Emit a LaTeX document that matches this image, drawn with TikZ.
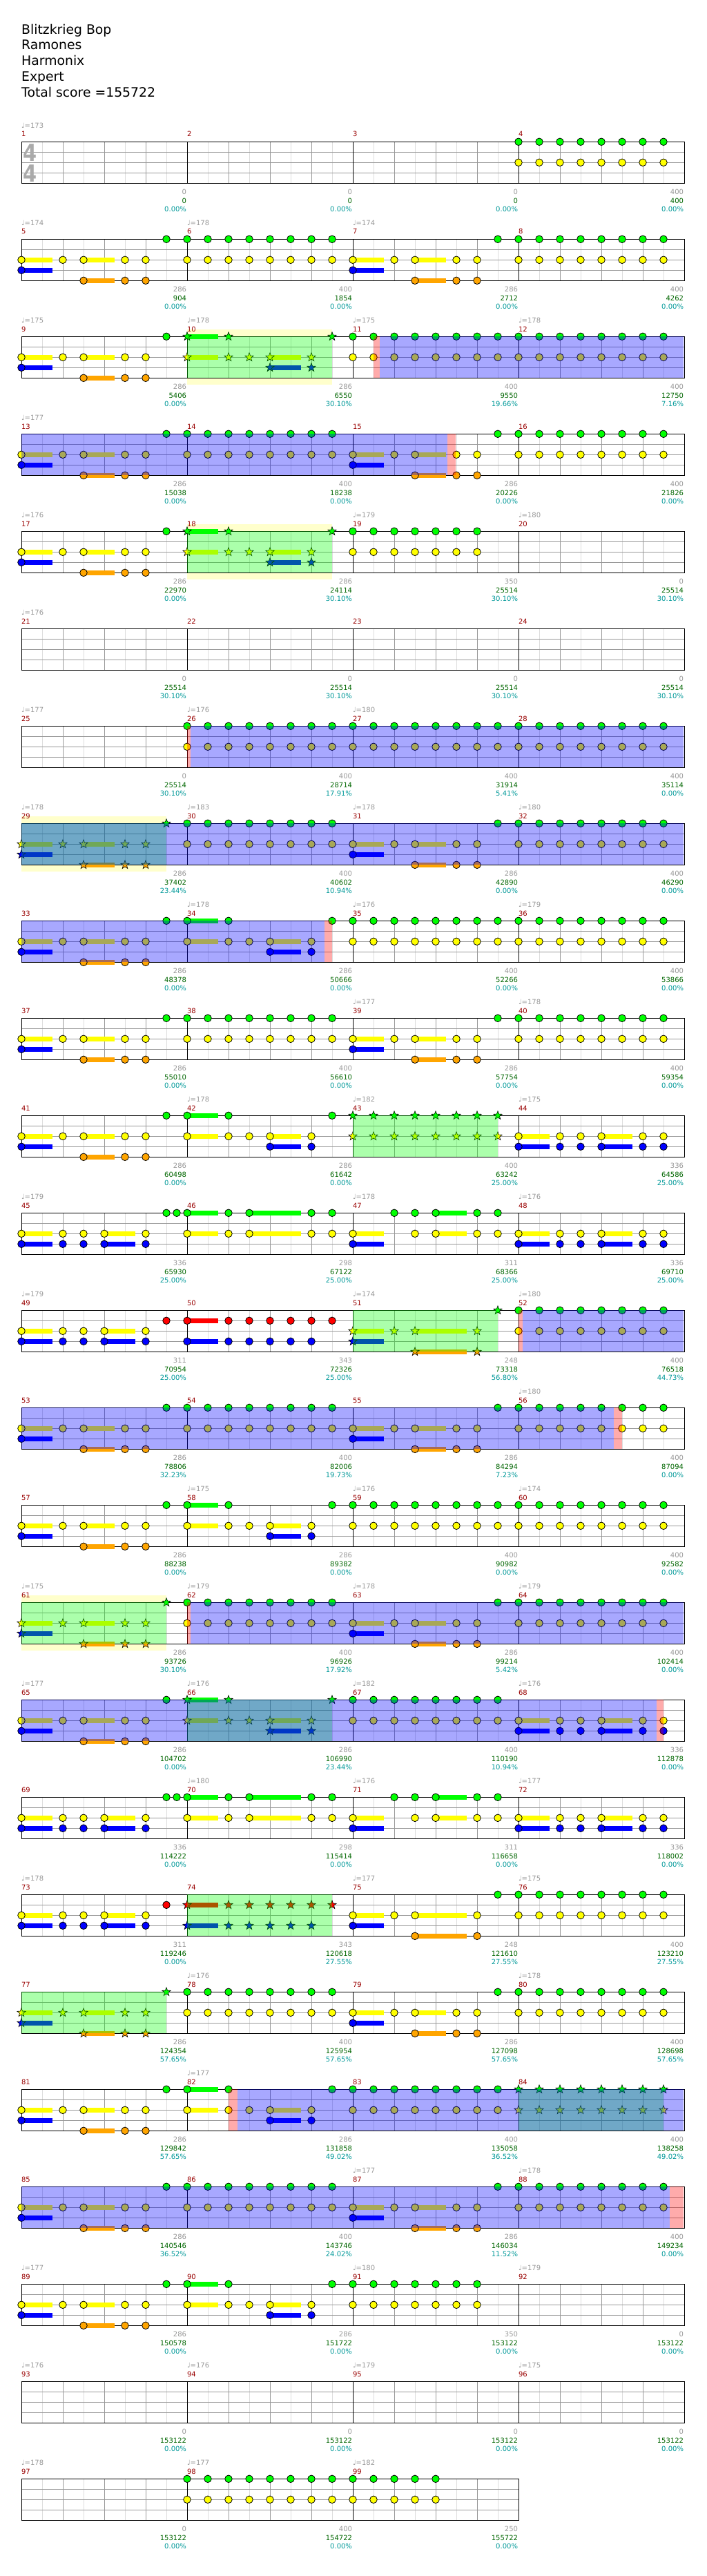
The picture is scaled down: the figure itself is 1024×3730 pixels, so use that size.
\documentclass[tikz,border=0pt]{standalone}
\usepackage{fontspec}
\setmainfont{DejaVu Sans}
\usetikzlibrary{calc}
\definecolor{cG}{HTML}{00FF00}
\definecolor{cR}{HTML}{FF0000}
\definecolor{cY}{HTML}{FFFF00}
\definecolor{cB}{HTML}{0000FF}
\definecolor{cO}{HTML}{FFA500}
\colorlet{lane0}{cG}\colorlet{lane1}{cR}\colorlet{lane2}{cY}\colorlet{lane3}{cB}\colorlet{lane4}{cO}
\definecolor{gridc}{HTML}{999999}
\definecolor{lightgridc}{HTML}{DDDDDD}
\definecolor{mnumc}{HTML}{990000}
\definecolor{scorec}{HTML}{006600}
\definecolor{pctc}{HTML}{009999}
\definecolor{tempoc}{HTML}{999999}
\definecolor{bandc}{HTML}{FFFFCC}
\definecolor{tsc}{HTML}{AAAAAA}
\newcount\nid
\newcommand\nextid{\global\advance\nid by 1\relax}
\tikzset{lbl/.style={font=\fontsize{10}{12}\selectfont, inner sep=0pt, outer sep=0pt}}
% notes: #1 measure in row, #2 eighth, #3 lane, #4 sustain (eighths)
\newcommand\noteN[4]{%
  \pgfmathsetmacro\nx{31+240*#1+30*#2}%
  \pgfmathsetmacro\ny{15*#3}%
  \ifdim#4pt>0pt \fill[lane#3] (\nx,{\ny-3.3}) rectangle ({\nx+30*#4},{\ny+3.3});\fi
  \filldraw[fill=lane#3,draw=black,line width=0.8pt] (\nx,\ny) circle (5.3pt);%
}
\newcommand\noteS[4]{%
  \pgfmathsetmacro\nx{31+240*#1+30*#2}%
  \pgfmathsetmacro\ny{15*#3}%
  \ifdim#4pt>0pt \fill[lane#3] (\nx,{\ny-3.3}) rectangle ({\nx+30*#4},{\ny+3.3});\fi
  \filldraw[fill=lane#3,draw=black,line width=0.6pt,line join=miter]
   ([shift={(90:6.5pt)}]\nx,\ny) -- ([shift={(126:2.7pt)}]\nx,\ny) -- ([shift={(162:6.5pt)}]\nx,\ny)
   -- ([shift={(198:2.7pt)}]\nx,\ny) -- ([shift={(234:6.5pt)}]\nx,\ny) -- ([shift={(270:2.7pt)}]\nx,\ny)
   -- ([shift={(306:6.5pt)}]\nx,\ny) -- ([shift={(342:2.7pt)}]\nx,\ny) -- ([shift={(18:6.5pt)}]\nx,\ny)
   -- ([shift={(54:2.7pt)}]\nx,\ny) -- cycle;%
}
\newcommand\GY[4]{\foreach \e in {#3,...,#4}{#1{#2}{\e}{0}{0}#1{#2}{\e}{2}{0}}}
\newcommand\patA[2]{%
 #1{#2}{0}{2}{1.5}#1{#2}{0}{3}{1.5}%
 #1{#2}{2}{2}{0}%
 #1{#2}{3}{2}{1.5}#1{#2}{3}{4}{1.5}%
 #1{#2}{5}{2}{0}#1{#2}{5}{4}{0}%
 #1{#2}{6}{2}{0}#1{#2}{6}{4}{0}%
 #1{#2}{7}{0}{0}}
\newcommand\patB[2]{%
 #1{#2}{0}{0}{1.5}#1{#2}{0}{2}{1.5}%
 #1{#2}{2}{0}{0}#1{#2}{2}{2}{0}%
 #1{#2}{3}{2}{0}%
 #1{#2}{4}{2}{1.5}#1{#2}{4}{3}{1.5}%
 #1{#2}{6}{2}{0}#1{#2}{6}{3}{0}%
 #1{#2}{7}{0}{0}}
\newcommand\patYB[2]{%
 #1{#2}{0}{2}{1.5}#1{#2}{0}{3}{1.5}%
 #1{#2}{2}{2}{0}#1{#2}{2}{3}{0}%
 #1{#2}{3}{2}{0}#1{#2}{3}{3}{0}%
 #1{#2}{4}{2}{1.5}#1{#2}{4}{3}{1.5}%
 #1{#2}{6}{2}{0}#1{#2}{6}{3}{0}}
\newcommand\patC[2]{\patYB{#1}{#2}#1{#2}{7}{2}{0}#1{#2}{7}{3}{0}}
\newcommand\patD[2]{\patYB{#1}{#2}#1{#2}{7}{0}{0}#1{#2}{7.5}{0}{0}}
\newcommand\patH[2]{\patYB{#1}{#2}#1{#2}{7}{1}{0}}
\newcommand\patE[2]{%
 #1{#2}{0}{0}{1.5}#1{#2}{0}{2}{1.5}%
 #1{#2}{2}{0}{0}#1{#2}{2}{2}{0}%
 #1{#2}{3}{0}{2.5}#1{#2}{3}{2}{2.5}%
 #1{#2}{6}{0}{0}#1{#2}{6}{2}{0}%
 #1{#2}{7}{0}{0}#1{#2}{7}{2}{0}}
\newcommand\patF[2]{%
 #1{#2}{0}{2}{1.5}#1{#2}{0}{3}{1.5}%
 #1{#2}{2}{0}{0}%
 #1{#2}{3}{0}{0}#1{#2}{3}{2}{0}%
 #1{#2}{4}{0}{1.5}#1{#2}{4}{2}{1.5}%
 #1{#2}{6}{0}{0}#1{#2}{6}{2}{0}%
 #1{#2}{7}{0}{0}#1{#2}{7}{2}{0}}
\newcommand\patI[2]{%
 #1{#2}{0}{1}{1.5}#1{#2}{0}{3}{1.5}%
 \foreach \e in {2,...,6}{#1{#2}{\e}{1}{0}#1{#2}{\e}{3}{0}}%
 #1{#2}{7}{1}{0}}
\newcommand\patJ[2]{%
 #1{#2}{0}{2}{1.5}#1{#2}{0}{3}{1.5}%
 #1{#2}{2}{2}{0}%
 #1{#2}{3}{2}{2.5}#1{#2}{3}{4}{2.5}%
 #1{#2}{6}{2}{0}#1{#2}{6}{4}{0}%
 #1{#2}{7}{0}{0}}
\newcommand\staff[1]{%
  \fill[white] (31,0) rectangle ({31+240*#1},60);
  \foreach \m in {1,...,#1}{%
    \foreach \e in {1,3,5,7}{\draw[lightgridc,line width=1pt] ({31+240*(\m-1)+30*\e},0) -- ++(0,60);}%
    \foreach \e in {2,4,6}{\draw[gridc,line width=1pt] ({31+240*(\m-1)+30*\e},0) -- ++(0,60);}%
  }%
  \foreach \yy in {15,30,45}{\draw[gridc,line width=1pt] (31,\yy) -- ({31+240*#1},\yy);}%
  \foreach \m in {2,...,#1}{\draw[black,line width=1pt] ({31+240*(\m-1)},0) -- ++(0,60);}%
  \draw[black,line width=1pt] (31,0) rectangle ({31+240*#1},60);%
}
\newcommand\band[2]{\fill[bandc] (#1,-10) rectangle (#2,70);}
\newcommand\spreg[2]{\fill[cG,opacity=0.33] (#1,0) rectangle (#2,60);}
\newcommand\odreg[2]{\fill[cB,opacity=0.34] (#1,0) rectangle (#2,60);}
\newcommand\redreg[2]{\fill[cR,opacity=0.33] (#1,0) rectangle (#2,60);}
\newcommand\mnums[2]{\foreach \jj in {#2}{\pgfmathtruncatemacro\mm{#1+\jj}\nextid
  \node[lbl,text=mnumc,anchor=base west] (m\the\nid) at ({31+240*\jj},-7.3) {\mm};}}
\newcommand\tempo[2]{\nextid\node[lbl,text=tempoc,anchor=base west] (t\the\nid) at ({31+240*#1},-20) {♩=#2};}
\newcommand\lab[4]{\nextid
  \node[lbl,text=tempoc,anchor=base east] (a\the\nid) at ({30+240*(#1+1)},76) {#2};
  \node[lbl,text=scorec,anchor=base east] (b\the\nid) at ({30+240*(#1+1)},89.3) {#3};
  \node[lbl,text=pctc,anchor=base east] (c\the\nid) at ({30+240*(#1+1)},101.3) {#4\%};}
\newcommand\Row[2]{\begin{scope}[shift={(0,{205.3+141*(#1-1)})}]#2\end{scope}}
\begin{document}
\begin{tikzpicture}[x=1pt,y=-1pt]
\useasboundingbox (0,0) rectangle (1024,3730);
\fill[white] (0,0) rectangle (1024,3730);
\begin{scope}[every node/.style={anchor=base west,inner sep=0pt,font=\fontsize{18.8}{22}\selectfont}]
\node (h1) at (31,49.3) {Blitzkrieg Bop};
\node (h2) at (31,72) {Ramones};
\node (h3) at (31,94.7) {Harmonix};
\node (h4) at (31,117.5) {Expert};
\node (h5) at (31,140.3) {Total score =155722};
\end{scope}
\Row{1}{\staff{4}
 \node[anchor=base west,inner sep=0pt,text=tsc,font=\fontsize{34}{34}\selectfont\bfseries,xscale=0.85] (ts1) at (33,28) {4};
 \node[anchor=base west,inner sep=0pt,text=tsc,font=\fontsize{34}{34}\selectfont\bfseries,xscale=0.85] (ts2) at (33,58) {4};
 \GY\noteN{3}{0}{7}
 \mnums{1}{0,1,2,3}\tempo{0}{173}
 \lab{0}{0}{0}{0.00}\lab{1}{0}{0}{0.00}\lab{2}{0}{0}{0.00}\lab{3}{400}{400}{0.00}}
\Row{2}{\staff{4}\patA\noteN{0}\GY\noteN{1}{0}{7}\patA\noteN{2}\GY\noteN{3}{0}{7}
 \mnums{5}{0,1,2,3}\tempo{0}{174}\tempo{1}{178}\tempo{2}{174}
 \lab{0}{286}{904}{0.00}\lab{1}{400}{1854}{0.00}\lab{2}{286}{2712}{0.00}\lab{3}{400}{4262}{0.00}}
\Row{3}{\band{271}{481}\staff{4}\patA\noteN{0}\patB\noteS{1}\GY\noteN{2}{0}{7}\GY\noteN{3}{0}{7}
 \spreg{271}{481}\redreg{541}{550}\odreg{550}{990}
 \mnums{9}{0,1,2,3}\tempo{0}{175}\tempo{1}{178}\tempo{2}{175}\tempo{3}{178}
 \lab{0}{286}{5406}{0.00}\lab{1}{286}{6550}{30.10}\lab{2}{400}{9550}{19.66}\lab{3}{400}{12750}{7.16}}
\Row{4}{\staff{4}\patA\noteN{0}\GY\noteN{1}{0}{7}\patA\noteN{2}\GY\noteN{3}{0}{7}
 \odreg{31}{648}\redreg{648}{660}
 \mnums{13}{0,1,2,3}\tempo{0}{177}
 \lab{0}{286}{15038}{0.00}\lab{1}{400}{18238}{0.00}\lab{2}{286}{20226}{0.00}\lab{3}{400}{21826}{0.00}}
\Row{5}{\band{271}{481}\staff{4}\patA\noteN{0}\patB\noteS{1}\GY\noteN{2}{0}{6}
 \spreg{271}{481}
 \mnums{17}{0,1,2,3}\tempo{0}{176}\tempo{2}{179}\tempo{3}{180}
 \lab{0}{286}{22970}{0.00}\lab{1}{286}{24114}{30.10}\lab{2}{350}{25514}{30.10}\lab{3}{0}{25514}{30.10}}
\Row{6}{\staff{4}
 \mnums{21}{0,1,2,3}\tempo{0}{176}
 \lab{0}{0}{25514}{30.10}\lab{1}{0}{25514}{30.10}\lab{2}{0}{25514}{30.10}\lab{3}{0}{25514}{30.10}}
\Row{7}{\staff{4}\GY\noteN{1}{0}{7}\GY\noteN{2}{0}{7}\GY\noteN{3}{0}{7}
 \redreg{271}{276}\odreg{276}{990}
 \mnums{25}{0,1,2,3}\tempo{0}{177}\tempo{1}{176}\tempo{2}{180}
 \lab{0}{0}{25514}{30.10}\lab{1}{400}{28714}{17.91}\lab{2}{400}{31914}{5.41}\lab{3}{400}{35114}{0.00}}
\Row{8}{\band{31}{241}\staff{4}\patA\noteS{0}\GY\noteN{1}{0}{7}\patA\noteN{2}\GY\noteN{3}{0}{7}
 \spreg{31}{241}\odreg{31}{990}
 \mnums{29}{0,1,2,3}\tempo{0}{178}\tempo{1}{183}\tempo{2}{178}\tempo{3}{180}
 \lab{0}{286}{37402}{23.44}\lab{1}{400}{40602}{10.94}\lab{2}{286}{42890}{0.00}\lab{3}{400}{46290}{0.00}}
\Row{9}{\staff{4}\patA\noteN{0}\patB\noteN{1}\GY\noteN{2}{0}{7}\GY\noteN{3}{0}{7}
 \odreg{31}{470}\redreg{470}{481}
 \mnums{33}{0,1,2,3}\tempo{1}{178}\tempo{2}{176}\tempo{3}{179}
 \lab{0}{286}{48378}{0.00}\lab{1}{286}{50666}{0.00}\lab{2}{400}{52266}{0.00}\lab{3}{400}{53866}{0.00}}
\Row{10}{\staff{4}\patA\noteN{0}\GY\noteN{1}{0}{7}\patA\noteN{2}\GY\noteN{3}{0}{7}
 \mnums{37}{0,1,2,3}\tempo{2}{177}\tempo{3}{178}
 \lab{0}{286}{55010}{0.00}\lab{1}{400}{56610}{0.00}\lab{2}{286}{57754}{0.00}\lab{3}{400}{59354}{0.00}}
\Row{11}{\staff{4}\patA\noteN{0}\patB\noteN{1}\GY\noteS{2}{0}{7}\patC\noteN{3}
 \spreg{511}{721}
 \mnums{41}{0,1,2,3}\tempo{1}{178}\tempo{2}{182}\tempo{3}{175}
 \lab{0}{286}{60498}{0.00}\lab{1}{286}{61642}{0.00}\lab{2}{400}{63242}{25.00}\lab{3}{336}{64586}{25.00}}
\Row{12}{\staff{4}\patD\noteN{0}\patE\noteN{1}\patF\noteN{2}\patC\noteN{3}
 \mnums{45}{0,1,2,3}\tempo{0}{179}\tempo{2}{178}\tempo{3}{176}
 \lab{0}{336}{65930}{25.00}\lab{1}{298}{67122}{25.00}\lab{2}{311}{68366}{25.00}\lab{3}{336}{69710}{25.00}}
\Row{13}{\staff{4}\patH\noteN{0}\patI\noteN{1}\patJ\noteS{2}\GY\noteN{3}{0}{7}
 \spreg{511}{721}\redreg{751}{757}\odreg{757}{990}
 \mnums{49}{0,1,2,3}\tempo{0}{179}\tempo{2}{174}\tempo{3}{180}
 \lab{0}{311}{70954}{25.00}\lab{1}{343}{72326}{25.00}\lab{2}{248}{73318}{56.80}\lab{3}{400}{76518}{44.73}}
\Row{14}{\staff{4}\patA\noteN{0}\GY\noteN{1}{0}{7}\patA\noteN{2}\GY\noteN{3}{0}{7}
 \odreg{31}{889}\redreg{889}{901}
 \mnums{53}{0,1,2,3}\tempo{3}{180}
 \lab{0}{286}{78806}{32.23}\lab{1}{400}{82006}{19.73}\lab{2}{286}{84294}{7.23}\lab{3}{400}{87094}{0.00}}
\Row{15}{\staff{4}\patA\noteN{0}\patB\noteN{1}\GY\noteN{2}{0}{7}\GY\noteN{3}{0}{7}
 \mnums{57}{0,1,2,3}\tempo{1}{175}\tempo{2}{176}\tempo{3}{174}
 \lab{0}{286}{88238}{0.00}\lab{1}{286}{89382}{0.00}\lab{2}{400}{90982}{0.00}\lab{3}{400}{92582}{0.00}}
\Row{16}{\band{31}{241}\staff{4}\patA\noteS{0}\GY\noteN{1}{0}{7}\patA\noteN{2}\GY\noteN{3}{0}{7}
 \spreg{31}{241}\redreg{271}{276}\odreg{276}{990}
 \mnums{61}{0,1,2,3}\tempo{0}{175}\tempo{1}{179}\tempo{2}{178}\tempo{3}{179}
 \lab{0}{286}{93726}{30.10}\lab{1}{400}{96926}{17.92}\lab{2}{286}{99214}{5.42}\lab{3}{400}{102414}{0.00}}
\Row{17}{\staff{4}\patA\noteN{0}\patB\noteS{1}\GY\noteN{2}{0}{7}\patC\noteN{3}
 \spreg{271}{481}\odreg{31}{951}\redreg{951}{961}
 \mnums{65}{0,1,2,3}\tempo{0}{177}\tempo{1}{176}\tempo{2}{182}\tempo{3}{176}
 \lab{0}{286}{104702}{0.00}\lab{1}{286}{106990}{23.44}\lab{2}{400}{110190}{10.94}\lab{3}{336}{112878}{0.00}}
\Row{18}{\staff{4}\patD\noteN{0}\patE\noteN{1}\patF\noteN{2}\patC\noteN{3}
 \mnums{69}{0,1,2,3}\tempo{1}{180}\tempo{2}{176}\tempo{3}{177}
 \lab{0}{336}{114222}{0.00}\lab{1}{298}{115414}{0.00}\lab{2}{311}{116658}{0.00}\lab{3}{336}{118002}{0.00}}
\Row{19}{\staff{4}\patH\noteN{0}\patI\noteS{1}\patJ\noteN{2}\GY\noteN{3}{0}{7}
 \spreg{271}{481}
 \mnums{73}{0,1,2,3}\tempo{0}{178}\tempo{2}{177}\tempo{3}{175}
 \lab{0}{311}{119246}{0.00}\lab{1}{343}{120618}{27.55}\lab{2}{248}{121610}{27.55}\lab{3}{400}{123210}{27.55}}
\Row{20}{\staff{4}\patA\noteS{0}\GY\noteN{1}{0}{7}\patA\noteN{2}\GY\noteN{3}{0}{7}
 \spreg{31}{241}
 \mnums{77}{0,1,2,3}\tempo{1}{176}\tempo{3}{178}
 \lab{0}{286}{124354}{57.65}\lab{1}{400}{125954}{57.65}\lab{2}{286}{127098}{57.65}\lab{3}{400}{128698}{57.65}}
\Row{21}{\staff{4}\patA\noteN{0}\patB\noteN{1}\GY\noteN{2}{0}{7}\GY\noteS{3}{0}{7}
 \spreg{751}{961}\redreg{331}{344}\odreg{344}{990}
 \mnums{81}{0,1,2,3}\tempo{1}{177}
 \lab{0}{286}{129842}{57.65}\lab{1}{286}{131858}{49.02}\lab{2}{400}{135058}{36.52}\lab{3}{400}{138258}{49.02}}
\Row{22}{\staff{4}\patA\noteN{0}\GY\noteN{1}{0}{7}\patA\noteN{2}\GY\noteN{3}{0}{7}
 \odreg{31}{970}\redreg{970}{990}
 \mnums{85}{0,1,2,3}\tempo{2}{177}\tempo{3}{178}
 \lab{0}{286}{140546}{36.52}\lab{1}{400}{143746}{24.02}\lab{2}{286}{146034}{11.52}\lab{3}{400}{149234}{0.00}}
\Row{23}{\staff{4}\patA\noteN{0}\patB\noteN{1}\GY\noteN{2}{0}{6}
 \mnums{89}{0,1,2,3}\tempo{0}{177}\tempo{2}{180}\tempo{3}{179}
 \lab{0}{286}{150578}{0.00}\lab{1}{286}{151722}{0.00}\lab{2}{350}{153122}{0.00}\lab{3}{0}{153122}{0.00}}
\Row{24}{\staff{4}
 \mnums{93}{0,1,2,3}\tempo{0}{176}\tempo{1}{176}\tempo{2}{179}\tempo{3}{175}
 \lab{0}{0}{153122}{0.00}\lab{1}{0}{153122}{0.00}\lab{2}{0}{153122}{0.00}\lab{3}{0}{153122}{0.00}}
\Row{25}{\staff{3}\GY\noteN{1}{0}{7}\GY\noteN{2}{0}{4}
 \mnums{97}{0,1,2}\tempo{0}{178}\tempo{1}{177}\tempo{2}{182}
 \lab{0}{0}{153122}{0.00}\lab{1}{400}{154722}{0.00}\lab{2}{250}{155722}{0.00}}
\end{tikzpicture}
\end{document}
